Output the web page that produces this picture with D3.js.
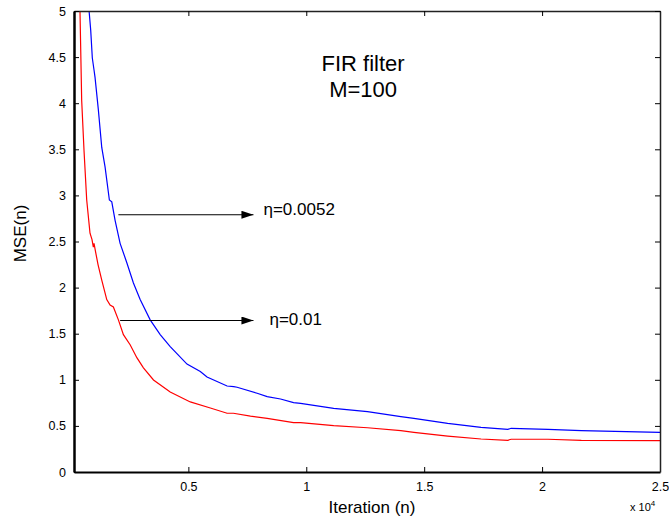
<!DOCTYPE html>
<html>
<head>
<meta charset="utf-8">
<script src="https://d3js.org/d3.v7.min.js"></script>
<style>
  body { margin: 0; background: #fff; }
  text { font-family: "Liberation Sans", Arial, sans-serif; fill: #000; }
</style>
</head>
<body>
<svg id="chart" width="669" height="521"></svg>
<script>
'use strict';

// iterations (n) and MSE readings, eta = 0.0052 (blue)
const blueIter = [790, 859, 927, 999, 1042, 1182, 1327, 1467, 1650, 1752, 1892, 2105, 2390, 2670, 2955,
  3380, 3805, 4230, 4941, 5506, 5791, 6642, 6922, 7067, 7917, 8342, 8908, 9461, 9759, 11162,
  12595, 14010, 14563, 15996, 17412, 18547, 18687, 20248, 21664, 25000];
const blueMse = [5.0, 4.79, 4.49, 4.36, 4.28, 3.93, 3.52, 3.31, 2.95, 2.93, 2.73, 2.48, 2.27, 2.05, 1.87,
  1.65, 1.49, 1.36, 1.17, 1.09, 1.03, 0.933, 0.925, 0.919, 0.854, 0.817, 0.792, 0.752, 0.745, 0.691,
  0.654, 0.60, 0.582, 0.528, 0.485, 0.463, 0.474, 0.463, 0.448, 0.43];

// eta = 0.01 (red)
const redIter = [404, 476, 574, 689, 829, 914, 970, 999, 1063, 1169, 1327, 1539, 1680, 1820, 2033,
  2245, 2530, 2815, 3095, 3521, 4230, 5081, 5932, 6642, 6910, 7632, 8342, 9461, 9759, 11162,
  12595, 14010, 14563, 15996, 17412, 18547, 18687, 20248, 21664, 25000];
const redMse = [5.0, 4.03, 3.49, 2.95, 2.59, 2.52, 2.44, 2.48, 2.39, 2.25, 2.08, 1.87, 1.81, 1.79, 1.65,
  1.49, 1.38, 1.24, 1.13, 0.998, 0.868, 0.76, 0.694, 0.637, 0.637, 0.607, 0.582, 0.535, 0.535, 0.502,
  0.48, 0.448, 0.43, 0.39, 0.358, 0.344, 0.355, 0.355, 0.344, 0.34];

const xTicks = [5000, 10000, 15000, 20000, 25000];
const xTickLabels = ['0.5', '1', '1.5', '2', '2.5'];
const yTicks = [0, 0.5, 1, 1.5, 2, 2.5, 3, 3.5, 4, 4.5, 5];
const yTickLabels = ['0', '0.5', '1', '1.5', '2', '2.5', '3', '3.5', '4', '4.5', '5'];

// annotation arrows: [x start, x end, y, label, label x, label baseline y]
const notes = [
  {x0: 2032, x1: 7760, y: 2.79, text: 'η=0.0052', tx: 8185, ty: 2.79},
  {x0: 2105, x1: 7760, y: 1.643, text: 'η=0.01', tx: 8440, ty: 1.59}
];
const titleLines = ['FIR filter', 'M=100'];

const margin = {left: 74, top: 11, right: 9, bottom: 49};
const W = 669, H = 521;
const svg = d3.select('#chart');

const x = d3.scaleLinear().domain([150, 25000]).range([margin.left, W - margin.right]);
const y = d3.scaleLinear().domain([0, 5]).range([H - margin.bottom, margin.top]);

svg.append('defs').append('clipPath').attr('id', 'clip')
  .append('rect')
  .attr('x', margin.left).attr('y', margin.top)
  .attr('width', W - margin.left - margin.right)
  .attr('height', H - margin.top - margin.bottom);

svg.select('defs').append('marker')
  .attr('id', 'head')
  .attr('viewBox', '0 0 12 8')
  .attr('refX', 12).attr('refY', 4)
  .attr('markerUnits', 'userSpaceOnUse')
  .attr('markerWidth', 13).attr('markerHeight', 8)
  .attr('orient', 'auto')
  .append('path').attr('d', 'M0,0 L12,4 L0,8 Z').attr('fill', '#000');

// curves
const line = d3.line().x(d => x(d[0])).y(d => y(d[1]));
const series = [
  {pts: d3.zip(blueIter, blueMse), color: '#0000ff'},
  {pts: d3.zip(redIter, redMse), color: '#ff0000'}
];
svg.append('g').attr('clip-path', 'url(#clip)')
  .selectAll('path').data(series).join('path')
  .attr('d', d => line(d.pts))
  .attr('fill', 'none')
  .attr('stroke', d => d.color)
  .attr('stroke-width', 1.2);

// axes, ticks pointing inward (matlab style)
const xB = svg.append('g').attr('transform', `translate(0,${y(0)})`)
  .call(d3.axisBottom(x).tickValues(xTicks).tickFormat((d, i) => xTickLabels[i]).tickSizeInner(-5).tickSizeOuter(0).tickPadding(10));
const xT = svg.append('g').attr('transform', `translate(0,${y(5)})`)
  .call(d3.axisTop(x).tickValues(xTicks).tickFormat('').tickSizeInner(-5).tickSizeOuter(0));
const yL = svg.append('g').attr('transform', `translate(${x.range()[0]},0)`)
  .call(d3.axisLeft(y).tickValues(yTicks).tickFormat((d, i) => yTickLabels[i]).tickSizeInner(-5).tickSizeOuter(0).tickPadding(8));
const yR = svg.append('g').attr('transform', `translate(${x.range()[1]},0)`)
  .call(d3.axisRight(y).tickValues(yTicks).tickFormat('').tickSizeInner(-5).tickSizeOuter(0));

[xB, xT, yL, yR].forEach(g => {
  g.selectAll('text').style('font-size', '12.5px').attr('fill', '#000');
  g.selectAll('line').attr('stroke', '#000');
});
xB.select('.domain').attr('stroke', '#000').attr('stroke-width', 2);
yL.select('.domain').attr('stroke', '#000').attr('stroke-width', 2.5);
xT.select('.domain').attr('stroke', '#222').attr('stroke-width', 1.5);
yR.select('.domain').attr('stroke', '#222').attr('stroke-width', 1.5);

// exponent label
const expo = svg.append('text').attr('x', 630).attr('y', 511).style('font-size', '11px');
expo.append('tspan').text('x 10');
expo.append('tspan').attr('dy', -5).style('font-size', '8px').text('4');

// axis titles
svg.append('text')
  .attr('x', (x.range()[0] + x.range()[1]) / 2 + 5).attr('y', 513)
  .attr('text-anchor', 'middle').style('font-size', '17px')
  .text('Iteration (n)');
svg.append('text')
  .attr('transform', `translate(26,${(y.range()[0] + y.range()[1]) / 2 - 8}) rotate(-90)`)
  .attr('text-anchor', 'middle').style('font-size', '17px')
  .text('MSE(n)');

// title
svg.append('g').selectAll('text').data(titleLines).join('text')
  .attr('x', x(12410))
  .attr('y', (d, i) => y(4.35) + i * 26)
  .attr('text-anchor', 'middle').style('font-size', '22px')
  .text(d => d);

// arrows + eta labels
const ann = svg.append('g').selectAll('g').data(notes).join('g');
ann.append('line')
  .attr('x1', d => x(d.x0)).attr('x2', d => x(d.x1))
  .attr('y1', d => y(d.y)).attr('y2', d => y(d.y))
  .attr('stroke', '#000').attr('stroke-width', 1.2)
  .attr('marker-end', 'url(#head)');
ann.append('text')
  .attr('x', d => x(d.tx)).attr('y', d => y(d.ty))
  .style('font-size', '17px')
  .text(d => d.text);
</script>
</body>
</html>
